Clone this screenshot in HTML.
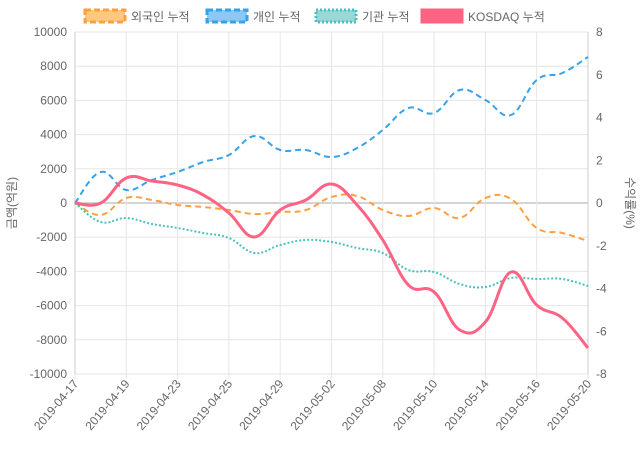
<!DOCTYPE html>
<html><head><meta charset="utf-8"><style>
body{margin:0;background:#fff}
svg{display:block;font-family:"Liberation Sans","Noto Sans CJK KR",sans-serif}
</style></head><body>
<svg id="c" width="640" height="450" xmlns="http://www.w3.org/2000/svg">
<g id="grid"></g>
<g id="lab" font-size="12" fill="#666"></g>
<g id="ser" fill="none"></g>
<g font-size="12" fill="#666">
<rect x="85" y="10" width="40" height="12" fill="#ffc880" stroke="#ff9f40" stroke-width="3" stroke-dasharray="6,3"/>
<text x="131" y="21">외국인 누적</text>
<rect x="207" y="10" width="40" height="12" fill="#8cc8f4" stroke="#36a2eb" stroke-width="3" stroke-dasharray="6,3"/>
<text x="253" y="21">개인 누적</text>
<rect x="316" y="10" width="40" height="12" fill="#9ad8d8" stroke="#4bc0c0" stroke-width="3" stroke-dasharray="2,2"/>
<text x="362" y="21">기관 누적</text>
<rect x="422" y="10" width="40" height="12" fill="#ff6384" stroke="#ff6384" stroke-width="3"/>
<text x="468" y="21">KOSDAQ 누적</text>
<text transform="translate(16,203) rotate(-90)" text-anchor="middle">금액(억원)</text>
<text transform="translate(626,203) rotate(90)" text-anchor="middle">수익률(%)</text>
</g>
</svg>
<script>
var L=75,R=588,T=32,B=374,NS="http://www.w3.org/2000/svg";
function el(p,t,a,txt){var e=document.createElementNS(NS,t);for(var k in a)e.setAttribute(k,a[k]);if(txt!=null)e.textContent=txt;document.getElementById(p).appendChild(e);return e;}
for(var i=0;i<=10;i++){var y=T+(B-T)*i/10;el("grid","line",{x1:L,x2:R,y1:y,y2:y,stroke:i==5?"#aaa":"#e6e6e6"});
el("lab","text",{x:L-8,y:y+4,"text-anchor":"end"},(10000-2000*i)+"");}
for(var i=0;i<=8;i++){var y=T+(B-T)*i/8;el("lab","text",{x:R+8,y:y+4},(8-2*i)+"");}
var d=["2019-04-17","2019-04-19","2019-04-23","2019-04-25","2019-04-29","2019-05-02","2019-05-08","2019-05-10","2019-05-14","2019-05-16","2019-05-20"];
for(var i=0;i<=10;i++){var x=L+(R-L)*i/10;el("grid","line",{x1:x,x2:x,y1:T,y2:B+5,stroke:"#e6e6e6"});
el("lab","text",{transform:"translate("+(x+4)+","+(B+10)+") rotate(-50)","text-anchor":"end"},d[i]);}
el("grid","line",{x1:L,x2:L,y1:T,y2:B,stroke:"#ccc"});el("grid","line",{x1:R,x2:R,y1:T,y2:B,stroke:"#ccc"});
function path(ys){var n=ys.length,dx=(R-L)/(n-1),p=[];for(var i=0;i<n;i++)p.push([L+dx*i,ys[i]]);
var s="M"+p[0][0]+","+p[0][1];for(var i=0;i<n-1;i++){var p0=p[Math.max(0,i-1)],p1=p[i],p2=p[i+1],p3=p[Math.min(n-1,i+2)],t=0.4/2;
s+=" C"+(p1[0]+(p2[0]-p0[0])*t)+","+(p1[1]+(p2[1]-p0[1])*t)+" "+(p2[0]-(p3[0]-p1[0])*t)+","+(p2[1]-(p3[1]-p1[1])*t)+" "+p2[0]+","+p2[1];}return s;}
var S=[
[[203,215,198,200,205,207,210,214,212,210,197,196,210,216,208,218,198,199,228,233,241],"#ff9f40","6,4"],
[[203,172,190,180,172,162,155,136,150,150,157,148,130,108,113,90,100,115,80,73,57],"#36a2eb","6,4"],
[[203,222,218,224,228,233,238,253,245,240,242,248,253,270,272,284,287,278,279,279,286],"#4bc0c0","2,2"],
[[203,203,178,181,185,195,213,237,210,200,184,205,240,285,292,330,322,272,305,318,348],"#ff6384",""]];
S.forEach(function(s){el("ser","path",{d:path(s[0]),stroke:s[1],"stroke-width":s[2]?2:3,"stroke-dasharray":s[2]});});
</script>
</body></html>
